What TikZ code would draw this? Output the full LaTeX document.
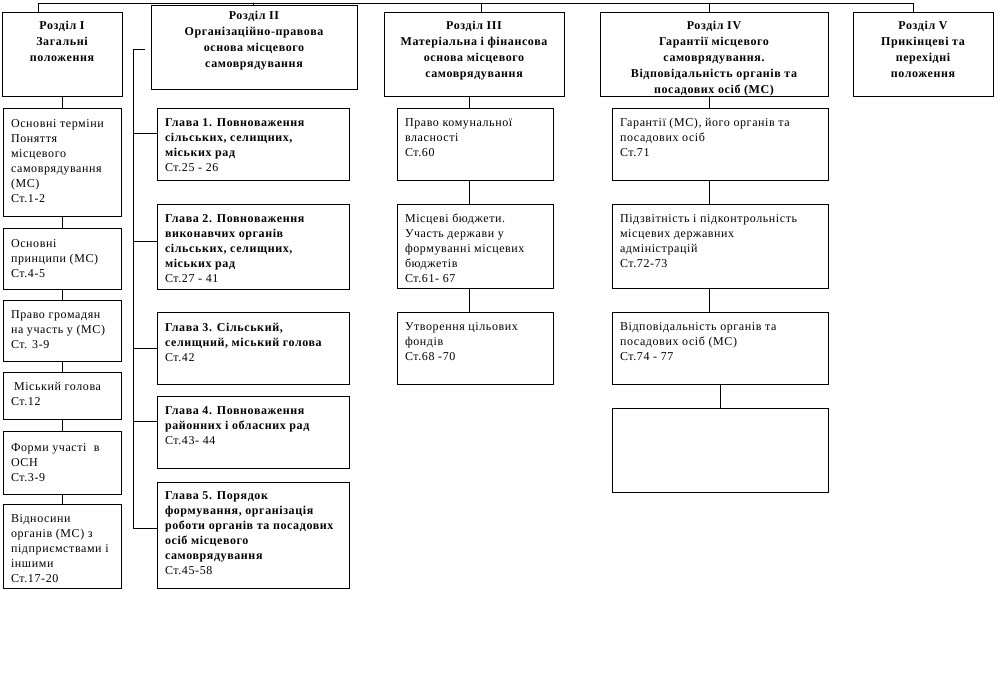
\documentclass[tikz,border=0pt]{standalone}
\usepackage{fontspec}
\setmainfont{Liberation Serif}[LetterSpace=5]
\usepackage{tikz}
\usetikzlibrary{calc}
\newcommand{\bodytext}[4][14pt]{\parbox[t][\dimexpr#3-10pt\relax][t]{\dimexpr#2-16pt\relax}{\raggedright\fontsize{12}{15}\selectfont\rule{0pt}{#1}#4}}
\newcommand{\headtext}[4][11pt]{\parbox[t][\dimexpr#3-12pt\relax][t]{\dimexpr#2-12pt\relax}{\centering\bfseries\fontsize{12}{16}\selectfont\rule{0pt}{#1}#4}}

\begin{document}
\begin{tikzpicture}[x=1pt, y=-1pt, line width=1pt,
    cell/.style={draw, anchor=north west, inner xsep=8pt, inner ysep=5pt, outer sep=0pt},
    head/.style={cell, inner xsep=6pt, inner ysep=6pt}]
    \useasboundingbox (0,0) rectangle (998,673);

    \node[head] (h1) at (2,12) {\headtext{120pt}{84pt}{Розділ I\\Загальні\\положення}};
    \node[head] (h2) at (151,5) {\headtext[8pt]{206pt}{84pt}{Розділ II\\Організаційно-правова\\основа місцевого\\самоврядування}};
    \node[head] (h3) at (384,12) {\headtext{180pt}{84pt}{Розділ III\\Матеріальна і фінансова\\основа місцевого\\самоврядування}};
    \node[head] (h4) at (600,12) {\headtext{228pt}{84pt}{Розділ IV\\Гарантії місцевого\\самоврядування.\\Відповідальність органів та\\посадових осіб (МС)}};
    \node[head] (h5) at (853,12) {\headtext{140pt}{84pt}{Розділ V\\Прикінцеві та\\перехідні\\положення}};

    \node[cell] (a1) at (3,108) {\bodytext{118pt}{108pt}{Основні терміни\\Поняття\\місцевого\\самоврядування\\(МС)\\Ст.1-2}};
    \node[cell] (a2) at (3,228) {\bodytext{118pt}{61pt}{Основні\\принципи (МС)\\Ст.4-5}};
    \node[cell] (a3) at (3,300) {\bodytext[13pt]{118pt}{61pt}{Право громадян\\на участь у (МС)\\Ст. 3-9}};
    \node[cell] (a4) at (3,372) {\bodytext[13pt]{118pt}{47pt}{\hspace{3pt}Міський голова\\Ст.12}};
    \node[cell] (a5) at (3,431) {\bodytext[15pt]{118pt}{63pt}{Форми участі\ \ в\\ОСН\\Ст.3-9}};
    \node[cell] (a6) at (3,504) {\bodytext[13pt]{118pt}{84pt}{Відносини\\органів (МС) з\\підприємствами і\\іншими\\Ст.17-20}};

    \node[cell] (g1) at (157,108) {\bodytext[13pt]{192pt}{72pt}{\textbf{Глава 1. Повноваження\\сільських, селищних,\\міських рад}\\Ст.25 - 26}};
    \node[cell] (g2) at (157,204) {\bodytext[13pt]{192pt}{85pt}{\textbf{Глава 2. Повноваження\\виконавчих органів\\сільських, селищних,\\міських рад}\\Ст.27 - 41}};
    \node[cell] (g3) at (157,312) {\bodytext[14pt]{192pt}{72pt}{\textbf{Глава 3. Сільський,\\селищний, міський голова}\\Ст.42}};
    \node[cell] (g4) at (157,396) {\bodytext[13pt]{192pt}{72pt}{\textbf{Глава 4. Повноваження\\районних і обласних рад}\\Ст.43- 44}};
    \node[cell] (g5) at (157,482) {\bodytext[12pt]{192pt}{106pt}{\textbf{Глава 5. Порядок\\формування, організація\\роботи органів та посадових\\осіб місцевого\\самоврядування}\\Ст.45-58}};

    \node[cell] (c1) at (397,108) {\bodytext[13pt]{156pt}{72pt}{Право комунальної\\власності\\Ст.60}};
    \node[cell] (c2) at (397,204) {\bodytext[13pt]{156pt}{84pt}{Місцеві бюджети.\\Участь держави у\\формуванні місцевих\\бюджетів\\Ст.61- 67}};
    \node[cell] (c3) at (397,312) {\bodytext[13pt]{156pt}{72pt}{Утворення цільових\\фондів\\Ст.68 -70}};

    \node[cell] (d1) at (612,108) {\bodytext[13pt]{216pt}{72pt}{Гарантії (МС), його органів та\\посадових осіб\\Ст.71}};
    \node[cell] (d2) at (612,204) {\bodytext[13pt]{216pt}{84pt}{Підзвітність і підконтрольність\\місцевих державних\\адміністрацій\\Ст.72-73}};
    \node[cell] (d3) at (612,312) {\bodytext[13pt]{216pt}{72pt}{Відповідальність органів та\\посадових осіб (МС)\\Ст.74 - 77}};
    \node[cell] (d4) at (612,408) {\bodytext{216pt}{84pt}{\mbox{}}};

    \coordinate (busL) at (38,3);
    \coordinate (busR) at (913,3);
    \draw (busL) -- (busR);
    \foreach \h/\x in {h1/38,h2/253,h3/481,h4/709,h5/913}
      \draw (\x,3) -- (\h.north -| \x,3);

    \foreach \u/\v in {h1/a1,a1/a2,a2/a3,a3/a4,a4/a5,a5/a6}
      \draw (\u.south) -- (\v.north);

    \coordinate (h2in) at (145,49);
    \coordinate (sp) at (133,49);
    \foreach \g/\o in {g1/25,g2/37,g3/36,g4/25,g5/46} {
      \path ($(\g.north west)+(0,\o)$) coordinate (\g w);
      \draw (sp |- \g w) -- (\g w);
    }
    \draw (h2in) -- (sp) -- (sp |- g5w);

    \foreach \u/\v/\s in {h3/c1/-6,c1/c2/-6,c2/c3/-6,h4/d1/-11,d1/d2/-11,d2/d3/-11} {
      \path ([xshift=\s pt]\v.north) coordinate (top\v);
      \draw (top\v) -- (top\v |- \u.south);
    }
    \draw (d3.south) -- (d4.north);
\end{tikzpicture}
\end{document}
